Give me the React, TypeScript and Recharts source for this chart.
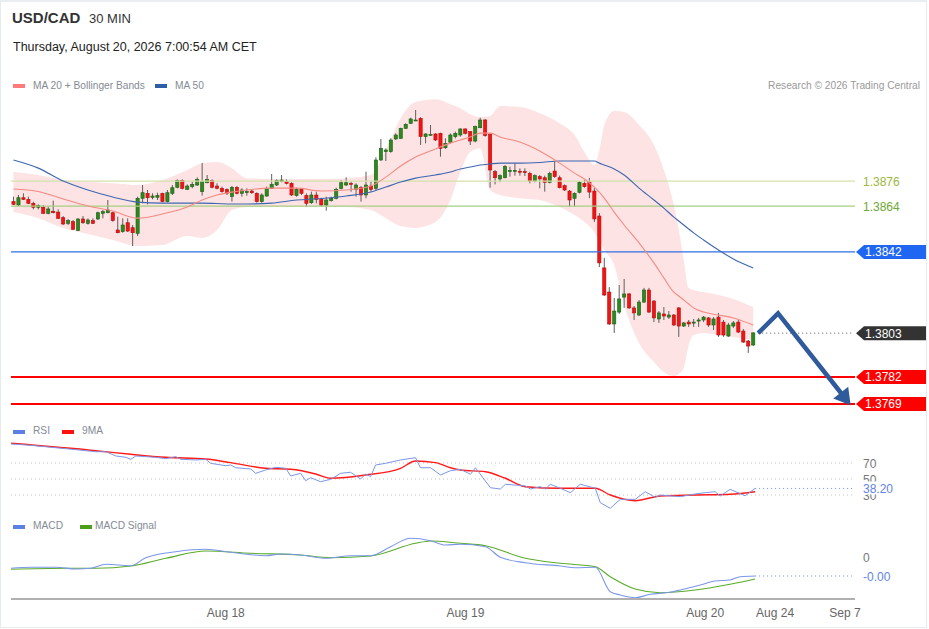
import React from 'react';
import { ComposedChart, Bar, Line, Area, XAxis, YAxis, ReferenceLine } from 'recharts';

const FONT = '"Liberation Sans", Arial, Helvetica, sans-serif';

// 150 half-hour candles (index 0..149) + 20 empty future slots
const SLOT_COUNT = 170;

const candleOpen = [
  1.38661, 1.38645, 1.3868, 1.38672, 1.38653, 1.38634, 1.38634, 1.38605, 1.38615, 1.38611,
  1.38584, 1.38557, 1.38565, 1.38522, 1.38578, 1.38557, 1.3857, 1.38578, 1.38605, 1.38608,
  1.38608, 1.38525, 1.38517, 1.3856, 1.38536, 1.38509, 1.38677, 1.38701, 1.38682, 1.38682,
  1.38701, 1.38661, 1.38701, 1.3873, 1.38762, 1.3872, 1.38733, 1.38741, 1.38709, 1.38752,
  1.38762, 1.38736, 1.38725, 1.3872, 1.38685, 1.3873, 1.38701, 1.38707, 1.38712, 1.38701,
  1.38661, 1.38688, 1.38725, 1.38741, 1.38757, 1.38757, 1.38749, 1.3869, 1.3872, 1.3869,
  1.38656, 1.38693, 1.38672, 1.38645, 1.38666, 1.38677, 1.38725, 1.38741, 1.38749, 1.3872,
  1.3873, 1.38693, 1.38736, 1.38725, 1.38861, 1.38901, 1.38901, 1.38962, 1.38965, 1.39013,
  1.39037, 1.39051, 1.39061, 1.38973, 1.38983, 1.38986, 1.38989, 1.3892, 1.38946, 1.38973,
  1.38981, 1.3901, 1.38997, 1.38952, 1.39016, 1.39053, 1.38984, 1.38805, 1.3877, 1.38776,
  1.38808, 1.3881, 1.38807, 1.38805, 1.38797, 1.3876, 1.38781, 1.38776, 1.38754, 1.38808,
  1.38776, 1.38738, 1.38712, 1.38677, 1.38706, 1.38749, 1.38755, 1.38712, 1.38592, 1.38343,
  1.38227, 1.38074, 1.38131, 1.38203, 1.38218, 1.38151, 1.38117, 1.38179, 1.38237, 1.38184,
  1.38098, 1.38122, 1.38107, 1.38117, 1.38151, 1.38064, 1.38083, 1.38079, 1.38088, 1.38093,
  1.38103, 1.38069, 1.38107, 1.38083, 1.38016, 1.38064, 1.38083, 1.3804, 1.37992, 1.37973,
];
const candleHigh = [
  1.38685, 1.38693, 1.38701, 1.38685, 1.38661, 1.38648, 1.38645, 1.38637, 1.38666, 1.38624,
  1.38592, 1.38578, 1.38573, 1.38581, 1.38592, 1.38581, 1.38581, 1.38613, 1.38621, 1.38669,
  1.38613, 1.38589, 1.38581, 1.38581, 1.38549, 1.38685, 1.38741, 1.38717, 1.38701, 1.38704,
  1.38704, 1.38717, 1.38741, 1.38768, 1.38768, 1.38744, 1.38757, 1.38778, 1.38847, 1.38789,
  1.38768, 1.38749, 1.38733, 1.38725, 1.38736, 1.38736, 1.38725, 1.38725, 1.3872, 1.38706,
  1.38701, 1.38733, 1.38794, 1.38768, 1.38789, 1.38768, 1.38754, 1.38728, 1.38725, 1.38701,
  1.38709, 1.38709, 1.3868, 1.38685, 1.38685, 1.38728, 1.38765, 1.38778, 1.38757, 1.38749,
  1.38736, 1.38805, 1.38757, 1.38874, 1.38962, 1.38917, 1.38965, 1.38989, 1.39016, 1.39037,
  1.39064, 1.39101, 1.39067, 1.38989, 1.39029, 1.38989, 1.38992, 1.38965, 1.38989, 1.38997,
  1.39013, 1.39013, 1.39, 1.39026, 1.39064, 1.39058, 1.38989, 1.38813, 1.38792, 1.38837,
  1.38829, 1.38845, 1.38821, 1.38821, 1.38805, 1.38792, 1.38789, 1.38786, 1.38805, 1.38853,
  1.38786, 1.38744, 1.38717, 1.38706, 1.3876, 1.38765, 1.38775, 1.38726, 1.38606, 1.38391,
  1.38251, 1.38199, 1.38261, 1.3829, 1.38223, 1.3816, 1.38189, 1.38247, 1.38247, 1.38189,
  1.38136, 1.38155, 1.38136, 1.38122, 1.38155, 1.38083, 1.38093, 1.38098, 1.38103, 1.38112,
  1.38107, 1.38107, 1.38127, 1.38093, 1.38079, 1.38088, 1.38093, 1.3805, 1.37997, 1.38035,
];
const candleLow = [
  1.38645, 1.3864, 1.38669, 1.3865, 1.38624, 1.38624, 1.38602, 1.386, 1.38605, 1.38578,
  1.38549, 1.38549, 1.38525, 1.3852, 1.38554, 1.38551, 1.38554, 1.38573, 1.38581, 1.38605,
  1.38565, 1.38509, 1.38512, 1.38515, 1.38448, 1.38496, 1.38653, 1.38648, 1.38672, 1.38669,
  1.38658, 1.38658, 1.38693, 1.38725, 1.3872, 1.38717, 1.38725, 1.38736, 1.3869, 1.38749,
  1.38725, 1.3872, 1.38704, 1.38693, 1.38661, 1.38696, 1.38685, 1.3869, 1.38698, 1.38656,
  1.38656, 1.38685, 1.38722, 1.38736, 1.38754, 1.38744, 1.38688, 1.38685, 1.38693, 1.38637,
  1.3865, 1.38653, 1.38637, 1.38618, 1.38661, 1.38672, 1.3872, 1.38736, 1.38709, 1.38685,
  1.38661, 1.38677, 1.38709, 1.38717, 1.38856, 1.38856, 1.38896, 1.38957, 1.38962, 1.3901,
  1.39034, 1.39048, 1.38933, 1.38941, 1.38978, 1.38952, 1.38877, 1.38914, 1.38941, 1.38965,
  1.38973, 1.38984, 1.38933, 1.38946, 1.39013, 1.38973, 1.38728, 1.38744, 1.38754, 1.38773,
  1.38781, 1.38786, 1.38786, 1.38784, 1.38749, 1.38754, 1.38725, 1.38709, 1.38749, 1.38776,
  1.38725, 1.38712, 1.38637, 1.38637, 1.38701, 1.38728, 1.38678, 1.38563, 1.38347, 1.38208,
  1.38069, 1.38031, 1.38122, 1.38151, 1.38146, 1.38093, 1.38112, 1.38175, 1.38127, 1.38083,
  1.38079, 1.38093, 1.38098, 1.38064, 1.38012, 1.3806, 1.3806, 1.3806, 1.3806, 1.38083,
  1.3806, 1.38045, 1.38012, 1.38012, 1.38012, 1.38055, 1.38031, 1.37983, 1.37935, 1.37968,
];
const candleClose = [
  1.38648, 1.3868, 1.38672, 1.38653, 1.38634, 1.38642, 1.38605, 1.38626, 1.38608, 1.38581,
  1.38554, 1.3857, 1.38528, 1.38578, 1.3856, 1.38573, 1.38557, 1.38608, 1.38613, 1.38621,
  1.3857, 1.38512, 1.38549, 1.3852, 1.38512, 1.38677, 1.38704, 1.3868, 1.38688, 1.38691,
  1.38661, 1.38704, 1.38728, 1.38762, 1.38725, 1.38736, 1.38744, 1.38768, 1.38757, 1.38768,
  1.3873, 1.38725, 1.38709, 1.38701, 1.3873, 1.38701, 1.38717, 1.38709, 1.38704, 1.38661,
  1.38693, 1.38725, 1.38744, 1.38762, 1.38765, 1.38749, 1.38693, 1.3872, 1.38701, 1.38653,
  1.38693, 1.38672, 1.38645, 1.38669, 1.38677, 1.3872, 1.38752, 1.38752, 1.38746, 1.38741,
  1.38693, 1.38741, 1.3872, 1.38861, 1.38917, 1.38909, 1.38957, 1.38981, 1.39013, 1.39032,
  1.39058, 1.39053, 1.38973, 1.38986, 1.38984, 1.38957, 1.38917, 1.38941, 1.38981, 1.38989,
  1.3901, 1.38989, 1.38952, 1.39021, 1.39053, 1.38978, 1.38813, 1.38776, 1.38786, 1.38829,
  1.38811, 1.38811, 1.38805, 1.38803, 1.3876, 1.38786, 1.3877, 1.38754, 1.38797, 1.38781,
  1.38728, 1.38717, 1.38669, 1.38701, 1.38754, 1.38733, 1.38707, 1.38578, 1.38367, 1.38213,
  1.38074, 1.38136, 1.38194, 1.38218, 1.38151, 1.38127, 1.38179, 1.38237, 1.38131, 1.38103,
  1.38127, 1.38112, 1.38117, 1.38069, 1.38064, 1.38079, 1.38074, 1.38083, 1.38093, 1.38107,
  1.38069, 1.38098, 1.38021, 1.38021, 1.38069, 1.38079, 1.38035, 1.37987, 1.37968, 1.38031,
];

// MA20 + Bollinger bands and MA50, read at these candle indices
const bandIdx = [0, 5, 10, 15, 20, 25, 30, 35, 38, 41, 44, 47, 52, 57, 62, 67, 72, 75, 78, 81, 85, 88, 90, 92, 94, 96, 98, 102, 106, 110, 113, 115, 117, 118, 119, 121, 123, 126, 129, 131, 133, 134, 135, 136, 137, 139, 142, 145, 149];
const upperBand = [
  1.38803, 1.38789, 1.38765, 1.38755, 1.3875, 1.38741, 1.38765, 1.38813, 1.38846, 1.38851,
  1.38822, 1.38774, 1.3877, 1.3877, 1.3877, 1.38774, 1.38789, 1.38909, 1.39062, 1.39139,
  1.39153, 1.39129, 1.3911, 1.39081, 1.39067, 1.39072, 1.3912, 1.39115, 1.39086, 1.39038,
  1.38981, 1.38899, 1.38837, 1.38909, 1.39029, 1.39096, 1.39091, 1.39029, 1.38933, 1.38813,
  1.38645, 1.38525, 1.38381, 1.38247, 1.38237, 1.38227, 1.38213, 1.38194, 1.38155,
];
const lowerBand = [
  1.38611, 1.38582, 1.38535, 1.38506, 1.38477, 1.38448, 1.38453, 1.38496, 1.38487, 1.38525,
  1.38621, 1.38635, 1.38635, 1.38635, 1.38635, 1.38635, 1.38621, 1.38582, 1.38544, 1.38535,
  1.38563, 1.38669, 1.38803, 1.38899, 1.38918, 1.38717, 1.38693, 1.38678, 1.38669, 1.38635,
  1.38597, 1.38563, 1.38515, 1.38477, 1.38429, 1.38357, 1.38165, 1.37983, 1.37892, 1.37844,
  1.37824, 1.37834, 1.37863, 1.37973, 1.38021, 1.38031, 1.38021, 1.38012, 1.37997,
];
const ma20 = [
  1.38722, 1.3871, 1.38674, 1.3864, 1.38616, 1.38582, 1.38602, 1.38635, 1.38669, 1.38693,
  1.38707, 1.38717, 1.38726, 1.38726, 1.38712, 1.38717, 1.38736, 1.38779, 1.38832, 1.38875,
  1.38914, 1.38942, 1.38957, 1.38971, 1.3899, 1.3899, 1.38971, 1.38947, 1.38904, 1.38846,
  1.38798, 1.3877, 1.38731, 1.38707, 1.38678, 1.38611, 1.38549, 1.38463, 1.38367, 1.38295,
  1.38227, 1.38208, 1.38189, 1.3817, 1.38151, 1.38131, 1.38117, 1.38103, 1.38069,
];
const ma50 = [
  1.38861, 1.38822, 1.3876, 1.38717, 1.38683, 1.38659, 1.38654, 1.38654, 1.38654, 1.38652,
  1.3865, 1.3865, 1.38654, 1.38669, 1.38676, 1.38688, 1.38707, 1.38731, 1.38755, 1.38774,
  1.38789, 1.38803, 1.38818, 1.38827, 1.38837, 1.38842, 1.38846, 1.38846, 1.38849, 1.38856,
  1.38856, 1.38856, 1.38856, 1.38846, 1.38837, 1.38818, 1.38789, 1.38726, 1.38669, 1.3863,
  1.38587, 1.38568, 1.38549, 1.3853, 1.38511, 1.38477, 1.38429, 1.38386, 1.38343,
];

// Key levels
const levelR2 = 1.3876;
const levelR1 = 1.3864;
const levelPivot = 1.3842;
const lastPrice = 1.3803;
const levelS1 = 1.3782;
const levelS2 = 1.3769;

// Projection arrow
const arrowIdx = [150, 154, 167];
const arrowVal = [1.3803, 1.38125, 1.37733];
const ARROW_ANGLE = 52;

// RSI (14) and its 9-period MA
const rsiIdx = [0, 4, 11, 17, 19, 21, 23, 24, 25, 29, 31, 33, 34, 37, 39, 40, 43, 44, 45, 48, 49, 51, 53, 55, 56, 58, 59, 60, 62, 64, 66, 68, 70, 71, 72, 73, 75, 78, 81, 82, 84, 86, 88, 90, 92, 93, 96, 98, 99, 103, 104, 106, 107, 108, 110, 112, 114, 117, 118, 120, 122, 125, 127, 129, 130, 134, 137, 139, 141, 142, 144, 147, 149];
const rsiVal = [93.8, 92.1, 87.9, 84.1, 84.1, 78.8, 77.1, 74.6, 78.8, 77.1, 75.4, 77.9, 74.6, 73.8, 74.6, 69.6, 66.6, 67.5, 64.1, 62.5, 57.1, 61.3, 64.6, 63.4, 53.8, 57.1, 47.9, 51.6, 46.6, 49.6, 57.1, 58.4, 50, 56.3, 52.9, 67.5, 69.6, 73.8, 76.6, 64.1, 64.1, 55, 60.4, 62.1, 55.9, 64.1, 39.1, 37.5, 43.4, 41.3, 37.5, 40.4, 37.5, 43.4, 38.4, 32.9, 43.4, 38.4, 20.4, 13.4, 24.6, 24.6, 34.1, 27.1, 30, 27.9, 31.3, 32.9, 34.1, 28.8, 37.1, 29.1, 38.2];
const rsiMaIdx = [0, 17, 24, 31, 39, 44, 51, 56, 61, 64, 71, 78, 81, 85, 88, 90, 95, 99, 103, 110, 117, 120, 125, 130, 137, 144, 149];
const rsiMaVal = [94.6, 85.4, 80.9, 77.1, 75, 70.4, 63.4, 62.1, 56.3, 50.9, 55, 63.4, 72.5, 70.4, 64.1, 61.3, 59.1, 50.9, 40.4, 38.4, 38.4, 30, 22.9, 28.8, 30, 30.9, 34.1];
const rsiLast = 38.2;
const rsiLevels = [70, 50, 30];

// MACD and signal
const macdIdx = [0, 4, 9, 13, 16, 19, 24, 27, 33, 39, 44, 51, 54, 58, 63, 68, 72, 76, 80, 84, 87, 90, 95, 98, 103, 110, 113, 117, 120, 122, 125, 128, 132, 134, 138, 141, 144, 146, 149];
const macdVal = [-0.000113, -0.000103, -0.000103, -0.00012, -0.000113, -0.000073, -0.000087, -0.000007, 0.000053, 0.000077, 0.000047, 0.000013, 0.00003, 0.00002, -0.000013, 0.000013, 0.000013, 0.000103, 0.000187, 0.000163, 0.00012, 0.000127, 0.000103, -0.000003, -0.000057, -0.00009, -0.000107, -0.000103, -0.000347, -0.00038, -0.000407, -0.000373, -0.000353, -0.00033, -0.00028, -0.00024, -0.00023, -0.000197, -0.00019];
const signalIdx = [0, 11, 17, 24, 31, 39, 48, 58, 64, 72, 81, 84, 90, 95, 103, 110, 117, 120, 125, 130, 137, 144, 149];
const signalVal = [-0.000123, -0.000113, -0.000113, -0.00009, -0.000013, 0.00006, 0.000037, 0.00002, -0.000007, 0.00001, 0.000137, 0.00016, 0.000137, 0.000113, -0.000013, -0.000063, -0.000097, -0.000197, -0.00032, -0.000357, -0.00033, -0.000273, -0.00022];
const macdLast = -0.00019;

// X axis ticks
const tickIdx = [43, 91, 139, 153, 167];
const tickLabels = ['Aug 18', 'Aug 19', 'Aug 20', 'Aug 24', 'Sep 7'];

const buildRows = () => {
  const rows: any[] = [];
  for (let i = 0; i < SLOT_COUNT; i++) rows.push({ i });
  candleOpen.forEach((o, k) => {
    rows[k].open = o;
    rows[k].high = candleHigh[k];
    rows[k].low = candleLow[k];
    rows[k].close = candleClose[k];
    rows[k].hl = [candleLow[k], candleHigh[k]];
  });
  bandIdx.forEach((idx, j) => {
    rows[idx].band = [lowerBand[j], upperBand[j]];
    rows[idx].ma20 = ma20[j];
    rows[idx].ma50 = ma50[j];
  });
  rsiIdx.forEach((idx, j) => { rows[idx].rsi = rsiVal[j]; });
  rsiMaIdx.forEach((idx, j) => { rows[idx].rsiMa = rsiMaVal[j]; });
  macdIdx.forEach((idx, j) => { rows[idx].macd = macdVal[j]; });
  signalIdx.forEach((idx, j) => { rows[idx].signal = signalVal[j]; });
  arrowIdx.forEach((idx, j) => { rows[idx].arrow = arrowVal[j]; });
  return rows;
};
const rows = buildRows();

const CandleShape = (props: any) => {
  const { x, y, width, height, payload } = props;
  if (!payload || payload.open == null || !isFinite(y) || !isFinite(height)) return <g />;
  const { open, close, high, low } = payload;
  const span = high - low;
  const k = span > 0 ? height / span : 0;
  const cx = x + width / 2;
  const yO = y + (high - open) * k;
  const yC = y + (high - close) * k;
  const up = close >= open;
  const top = Math.min(yO, yC);
  const bh = Math.max(1, Math.abs(yC - yO));
  return (
    <g>
      <line x1={cx} x2={cx} y1={y} y2={y + height} stroke="#5e5e5e" strokeWidth={1} />
      <rect x={cx - 1.6} y={top} width={3.2} height={bh} fill={up ? '#2a8a1e' : '#f01414'} stroke={up ? '#1d5e14' : '#b80c0c'} strokeWidth={0.6} />
    </g>
  );
};

const ArrowDot = (props: any) => {
  const { cx, cy, payload, index } = props;
  if (!payload || payload.i !== arrowIdx[arrowIdx.length - 1] || cx == null || cy == null) return <g key={`ad-${index}`} />;
  return (
    <polygon key={`ad-${index}`} points="13,0 -3,-9.5 -3,9.5" transform={`translate(${cx},${cy}) rotate(${ARROW_ANGLE})`} fill="#2f5b9c" />
  );
};

const getVB = (props: any) => props.viewBox || { x: 11, y: 0, width: 844, height: 0 };

const plainLabel = (text: string, color: string) => (props: any) => {
  const vb = getVB(props);
  return (
    <text x={vb.x + vb.width + 8} y={vb.y} dy={4.5} fill={color} fontSize={12} fontFamily={FONT}>{text}</text>
  );
};

const boxedLabel = (text: string, color: string) => (props: any) => {
  const vb = getVB(props);
  const x0 = vb.x + vb.width;
  return (
    <g>
      <rect x={x0 + 6} y={vb.y - 7} width={40} height={13} fill="#ffffff" />
      <text x={x0 + 8} y={vb.y} dy={4.5} fill={color} fontSize={12} fontFamily={FONT}>{text}</text>
    </g>
  );
};

const tagLabel = (text: string, bg: string) => (props: any) => {
  const vb = getVB(props);
  const x0 = vb.x + vb.width + 1;
  const y0 = vb.y;
  return (
    <g>
      <polygon points={`${x0},${y0} ${x0 + 8},${y0 - 7} ${x0 + 70},${y0 - 7} ${x0 + 70},${y0 + 7} ${x0 + 8},${y0 + 7}`} fill={bg} />
      <text x={x0 + 9} y={y0} dy={4.5} fill="#ffffff" fontSize={12} fontFamily={FONT}>{text}</text>
    </g>
  );
};

const AxisTick = (props: any) => {
  const { x, y, payload } = props;
  const k = tickIdx.indexOf(payload.value);
  if (k < 0) return <g />;
  return (
    <text x={x} y={y} dy={10} textAnchor="middle" fill="#666" fontSize={12} fontFamily={FONT}>{tickLabels[k]}</text>
  );
};

const txt = (style: React.CSSProperties): React.CSSProperties => ({
  position: 'absolute',
  whiteSpace: 'nowrap',
  lineHeight: 1,
  fontFamily: FONT,
  ...style,
});

const swatch = (left: number, top: number, color: string): React.CSSProperties => ({
  position: 'absolute', left, top, width: 12, height: 4, background: color,
});

export default function App() {
  return (
    <div style={{ position: 'absolute', left: 0, top: 0, width: 929, height: 629, background: '#fff', overflow: 'hidden' }}>
      <div style={{ position: 'absolute', left: 0, top: 0, width: 925, height: 625, borderTop: '2px solid #eaeef2', borderLeft: '1px solid #e6ebf0', borderRight: '1px solid #e6ebf0', borderBottom: '1px solid #e6ebf0' }} />

      {/* Header */}
      <div style={txt({ left: 12, top: 10, fontSize: 15, fontWeight: 'bold', color: '#333' })}>USD/CAD</div>
      <div style={txt({ left: 89, top: 11.5, fontSize: 13, color: '#333' })}>30 MIN</div>
      <div style={txt({ left: 13, top: 41, fontSize: 12.5, color: '#222' })}>Thursday, August 20, 2026 7:00:54 AM CET</div>

      {/* Price legend */}
      <div style={swatch(13, 84, '#ff7a7a')} />
      <div style={txt({ left: 33, top: 80.5, fontSize: 10.2, color: '#858b95' })}>MA 20 + Bollinger Bands</div>
      <div style={swatch(155, 84, '#2f5ea8')} />
      <div style={txt({ left: 175, top: 80.5, fontSize: 10.2, color: '#858b95' })}>MA 50</div>
      <div style={txt({ left: 620, width: 300, top: 80.5, fontSize: 10.2, color: '#9a9a9a', textAlign: 'right' })}>Research © 2026 Trading Central</div>

      {/* RSI legend */}
      <div style={swatch(13, 430, '#5d80e4')} />
      <div style={txt({ left: 33, top: 426, fontSize: 10.2, color: '#858b95' })}>RSI</div>
      <div style={swatch(62, 430, '#ff1010')} />
      <div style={txt({ left: 82, top: 426, fontSize: 10.2, color: '#858b95' })}>9MA</div>

      {/* MACD legend */}
      <div style={swatch(13, 525, '#5d80e4')} />
      <div style={txt({ left: 33, top: 521, fontSize: 10.2, color: '#858b95' })}>MACD</div>
      <div style={swatch(80, 525, '#4c9e1a')} />
      <div style={txt({ left: 95, top: 521, fontSize: 10.2, color: '#858b95' })}>MACD Signal</div>

      {/* Price panel */}
      <div style={{ position: 'absolute', left: 0, top: 0 }}>
        <ComposedChart width={929} height={420} data={rows} margin={{ top: 95, right: 74, bottom: 5, left: 11 }} style={{ fontFamily: FONT }}>
          <XAxis dataKey="i" hide />
          <YAxis hide domain={[1.37637, 1.39173]} allowDataOverflow />
          <Area dataKey="band" type="monotone" stroke="none" fill="#fde3e3" fillOpacity={1} connectNulls isAnimationActive={false} activeDot={false} />
          <ReferenceLine y={levelR2} stroke="#d3e2aa" strokeWidth={1.2} label={plainLabel('1.3876', '#9ab83a')} />
          <ReferenceLine y={levelR1} stroke="#a6cf80" strokeWidth={1.2} label={plainLabel('1.3864', '#6fa832')} />
          <ReferenceLine y={levelPivot} stroke="#2f6fe6" strokeWidth={1.2} label={tagLabel('1.3842', '#1f67f2')} />
          <ReferenceLine y={levelS1} stroke="#ff0000" strokeWidth={2} label={tagLabel('1.3782', '#ff0000')} />
          <ReferenceLine y={levelS2} stroke="#ff0000" strokeWidth={2} label={tagLabel('1.3769', '#ff0000')} />
          <ReferenceLine segment={[{ x: 150, y: lastPrice }, { x: 169, y: lastPrice }]} stroke="#555" strokeDasharray="1 3" />
          <ReferenceLine y={lastPrice} stroke="none" label={tagLabel('1.3803', '#333333')} />
          <Line dataKey="ma50" type="monotone" stroke="#3d67b1" strokeWidth={1.1} dot={false} activeDot={false} connectNulls isAnimationActive={false} />
          <Line dataKey="ma20" type="monotone" stroke="#f48a84" strokeWidth={1.1} dot={false} activeDot={false} connectNulls isAnimationActive={false} />
          <Bar dataKey="hl" shape={CandleShape} isAnimationActive={false} />
          <Line dataKey="arrow" type="linear" stroke="#2f5b9c" strokeWidth={4.5} strokeLinejoin="miter" dot={ArrowDot} activeDot={false} connectNulls isAnimationActive={false} />
        </ComposedChart>
      </div>

      {/* RSI panel */}
      <div style={{ position: 'absolute', left: 0, top: 430 }}>
        <ComposedChart width={929} height={95} data={rows} margin={{ top: 9, right: 74, bottom: 6, left: 11 }} style={{ fontFamily: FONT }}>
          <XAxis dataKey="i" hide />
          <YAxis hide domain={[0, 100]} allowDataOverflow />
          {rsiLevels.map((lv) => (
            <ReferenceLine key={lv} y={lv} stroke="#c4c4c4" strokeDasharray="1 3" label={plainLabel(String(lv), '#777')} />
          ))}
          <ReferenceLine segment={[{ x: 149, y: rsiLast }, { x: 169, y: rsiLast }]} stroke="#6f8fe6" strokeDasharray="1 3" />
          <ReferenceLine y={rsiLast} stroke="none" label={boxedLabel('38.20', '#5f84e6')} />
          <Line dataKey="rsiMa" type="monotone" stroke="#ff1a1a" strokeWidth={1.4} dot={false} activeDot={false} connectNulls isAnimationActive={false} />
          <Line dataKey="rsi" type="linear" stroke="#7b97e8" strokeWidth={1} dot={false} activeDot={false} connectNulls isAnimationActive={false} />
        </ComposedChart>
      </div>

      {/* MACD panel */}
      <div style={{ position: 'absolute', left: 0, top: 520 }}>
        <ComposedChart width={929} height={109} data={rows} margin={{ top: 7, right: 74, bottom: 0, left: 11 }} style={{ fontFamily: FONT }}>
          <XAxis dataKey="i" ticks={tickIdx} interval={0} tick={AxisTick} tickLine={false} axisLine={{ stroke: '#b0b0b0', strokeWidth: 2 }} height={30} />
          <YAxis hide domain={[-0.00042, 0.0003]} allowDataOverflow />
          <ReferenceLine y={0} stroke="none" label={plainLabel('0', '#777')} />
          <ReferenceLine segment={[{ x: 149, y: macdLast }, { x: 169, y: macdLast }]} stroke="#6f8fe6" strokeDasharray="1 3" />
          <ReferenceLine y={macdLast} stroke="none" label={plainLabel('-0.00', '#5f84e6')} />
          <Line dataKey="signal" type="monotone" stroke="#5aab2a" strokeWidth={1.1} dot={false} activeDot={false} connectNulls isAnimationActive={false} />
          <Line dataKey="macd" type="monotone" stroke="#7b97e8" strokeWidth={1.1} dot={false} activeDot={false} connectNulls isAnimationActive={false} />
        </ComposedChart>
      </div>
    </div>
  );
}
